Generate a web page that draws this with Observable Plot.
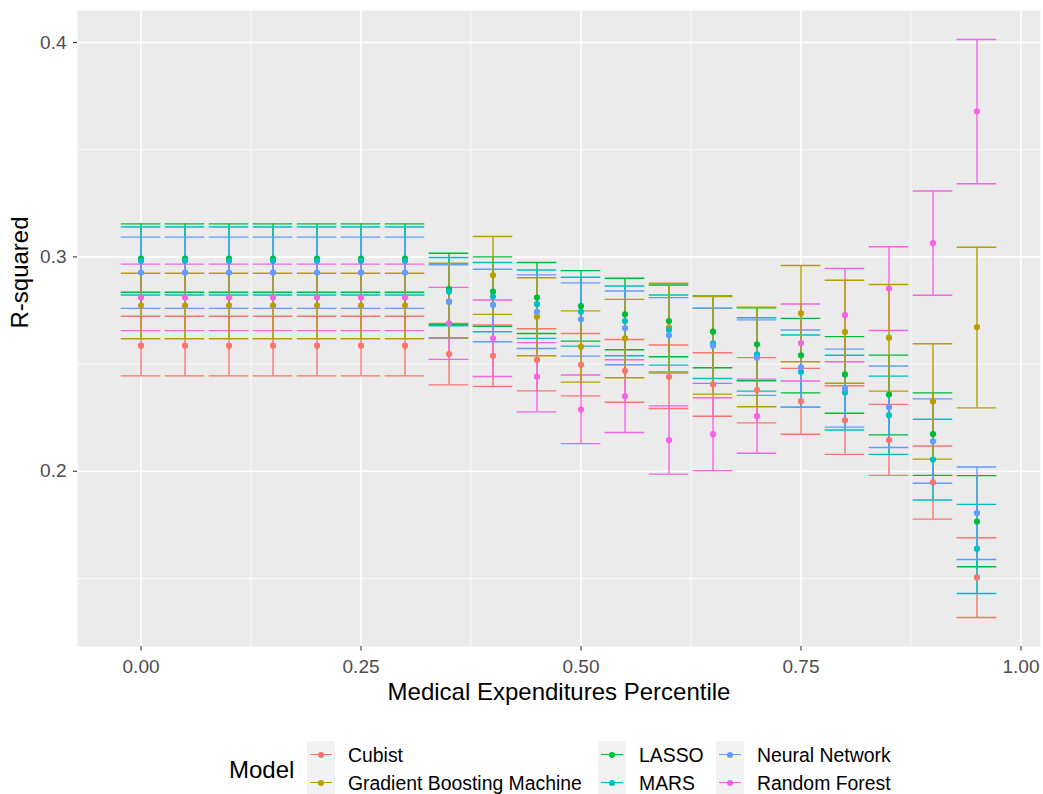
<!DOCTYPE html>
<html><head><meta charset="utf-8">
<script src="https://cdn.jsdelivr.net/npm/d3@7"></script>
<script src="https://cdn.jsdelivr.net/npm/@observablehq/plot@0.6"></script>
<style>
body{margin:0;background:#fff;font-family:"Liberation Sans",Arial,sans-serif;}
#wrap{position:relative;width:1043px;height:794px;overflow:hidden;}
#legend{position:relative;width:1043px;height:53px;}
#legend .t{position:absolute;white-space:nowrap;line-height:1;}
#legend .key{position:absolute;width:28px;height:28px;background:#F2F2F2;}
#legend .key .ln{position:absolute;left:3px;width:22px;top:13px;height:1.4px;}
#legend .key .pt{position:absolute;left:11px;top:11px;width:6px;height:6px;border-radius:50%;}
svg{display:block}
</style></head><body><div id="wrap"></div>
<script>
const models = ["Cubist","Gradient Boosting Machine","LASSO","MARS","Neural Network","Random Forest"];
const colors = ["#F8766D","#B79F00","#00BA38","#00BFC4","#619CFF","#F564E3"];
const errorbarOrder = ["Cubist","LASSO","MARS","Random Forest","Neural Network","Gradient Boosting Machine"];
const percentiles = [0,0.05,0.10,0.15,0.20,0.25,0.30,0.35,0.40,0.45,0.50,0.55,0.60,0.65,0.70,0.75,0.80,0.85,0.90,0.95];
const xTicks = [0,0.25,0.5,0.75,1];
const xTickLabels = ["0.00","0.25","0.50","0.75","1.00"];
const xMinor = [0.125,0.375,0.625,0.875];
const yTicks = [0.2,0.3,0.4];
const yTickLabels = ["0.2","0.3","0.4"];
const yMinor = [0.15,0.25,0.35];

const cubistMean = [0.2586,0.2586,0.2586,0.2586,0.2586,0.2586,0.2586,0.2547,0.2539,0.2520,0.2497,0.2469,0.2441,0.2405,0.2379,0.2327,0.2238,0.2146,0.1949,0.1505];
const cubistLow  = [0.2445,0.2445,0.2445,0.2445,0.2445,0.2445,0.2445,0.2403,0.2396,0.2375,0.2352,0.2322,0.2293,0.2257,0.2226,0.2173,0.2079,0.1981,0.1777,0.1318];
const cubistHigh = [0.2723,0.2723,0.2723,0.2723,0.2723,0.2723,0.2723,0.2690,0.2682,0.2665,0.2643,0.2615,0.2589,0.2553,0.2530,0.2480,0.2399,0.2312,0.2118,0.1690];

const gbmMean = [0.2773,0.2773,0.2773,0.2773,0.2773,0.2773,0.2773,0.2791,0.2914,0.2721,0.2581,0.2620,0.2670,0.2589,0.2534,0.2737,0.2650,0.2623,0.2326,0.2673];
const gbmLow  = [0.2618,0.2618,0.2618,0.2618,0.2618,0.2618,0.2618,0.2623,0.2732,0.2539,0.2416,0.2436,0.2463,0.2360,0.2301,0.2511,0.2411,0.2374,0.2057,0.2296];
const gbmHigh = [0.2924,0.2924,0.2924,0.2924,0.2924,0.2924,0.2924,0.2970,0.3095,0.2903,0.2748,0.2802,0.2877,0.2815,0.2765,0.2960,0.2891,0.2871,0.2595,0.3045];

const lassoMean = [0.2992,0.2992,0.2992,0.2992,0.2992,0.2992,0.2992,0.2850,0.2838,0.2810,0.2771,0.2732,0.2701,0.2651,0.2592,0.2541,0.2452,0.2358,0.2174,0.1766];
const lassoLow  = [0.2835,0.2835,0.2835,0.2835,0.2835,0.2835,0.2835,0.2685,0.2676,0.2643,0.2607,0.2567,0.2534,0.2483,0.2422,0.2366,0.2271,0.2170,0.1981,0.1555];
const lassoHigh = [0.3154,0.3154,0.3154,0.3154,0.3154,0.3154,0.3154,0.3017,0.3000,0.2974,0.2936,0.2900,0.2869,0.2818,0.2762,0.2713,0.2628,0.2542,0.2366,0.1980];

const marsMean = [0.2982,0.2982,0.2982,0.2982,0.2982,0.2982,0.2982,0.2838,0.2815,0.2780,0.2744,0.2701,0.2659,0.2597,0.2545,0.2464,0.2368,0.2262,0.2055,0.1639];
const marsLow  = [0.2822,0.2822,0.2822,0.2822,0.2822,0.2822,0.2822,0.2679,0.2651,0.2620,0.2584,0.2539,0.2495,0.2433,0.2374,0.2299,0.2193,0.2079,0.1866,0.1430];
const marsHigh = [0.3139,0.3139,0.3139,0.3139,0.3139,0.3139,0.3139,0.2997,0.2974,0.2939,0.2905,0.2864,0.2822,0.2761,0.2716,0.2636,0.2541,0.2444,0.2243,0.1846];

const nnMean = [0.2927,0.2927,0.2927,0.2927,0.2927,0.2927,0.2927,0.2791,0.2776,0.2744,0.2709,0.2668,0.2634,0.2585,0.2530,0.2485,0.2386,0.2299,0.2140,0.1805];
const nnLow  = [0.2760,0.2760,0.2760,0.2760,0.2760,0.2760,0.2760,0.2620,0.2604,0.2573,0.2537,0.2497,0.2458,0.2410,0.2354,0.2299,0.2206,0.2111,0.1944,0.1589];
const nnHigh = [0.3092,0.3092,0.3092,0.3092,0.3092,0.3092,0.3092,0.2963,0.2942,0.2916,0.2879,0.2841,0.2810,0.2760,0.2706,0.2659,0.2570,0.2491,0.2338,0.2020];

const rfMean = [0.2810,0.2810,0.2810,0.2810,0.2810,0.2810,0.2810,0.2690,0.2620,0.2441,0.2288,0.2350,0.2145,0.2173,0.2257,0.2598,0.2728,0.2852,0.3064,0.3679];
const rfLow  = [0.2656,0.2656,0.2656,0.2656,0.2656,0.2656,0.2656,0.2522,0.2442,0.2277,0.2129,0.2181,0.1987,0.2003,0.2084,0.2421,0.2511,0.2657,0.2821,0.3341];
const rfHigh = [0.2966,0.2966,0.2966,0.2966,0.2966,0.2966,0.2966,0.2858,0.2799,0.2600,0.2449,0.2520,0.2305,0.2343,0.2430,0.2780,0.2946,0.3047,0.3307,0.4014];

const means = [cubistMean,gbmMean,lassoMean,marsMean,nnMean,rfMean];
const lows = [cubistLow,gbmLow,lassoLow,marsLow,nnLow,rfLow];
const highs = [cubistHigh,gbmHigh,lassoHigh,marsHigh,nnHigh,rfHigh];

const rows = [];
models.forEach((m, i) => percentiles.forEach((p, j) => rows.push({model: m, x: p, mean: means[i][j], lo: lows[i][j], hi: highs[i][j]})));

const capHalf = 0.0225;
const font = "Liberation Sans, Arial, sans-serif";
const eb = {stroke: "model", strokeWidth: 1.4};

const errorbarMarks = errorbarOrder.flatMap(m => {
  const sub = rows.filter(d => d.model === m);
  return [
    Plot.ruleX(sub, {x: "x", y1: "lo", y2: "hi", ...eb}),
    Plot.ruleY(sub, {y: "lo", x1: d => d.x - capHalf, x2: d => d.x + capHalf, ...eb}),
    Plot.ruleY(sub, {y: "hi", x1: d => d.x - capHalf, x2: d => d.x + capHalf, ...eb})
  ];
});

const chart = Plot.plot({
  width: 1043, height: 741,
  marginLeft: 77, marginRight: 3, marginTop: 10, marginBottom: 95,
  x: {domain: [-0.0722, 1.0222]},
  y: {domain: [0.1183, 0.4149]},
  color: {domain: models, range: colors},
  style: {fontFamily: font, background: "transparent", overflow: "visible"},
  marks: [
    Plot.frame({fill: "#EBEBEB", stroke: null}),
    Plot.ruleX(xMinor, {stroke: "#fff", strokeWidth: 0.8}),
    Plot.ruleY(yMinor, {stroke: "#fff", strokeWidth: 0.8}),
    Plot.ruleX(xTicks, {stroke: "#fff", strokeWidth: 1.6}),
    Plot.ruleY(yTicks, {stroke: "#fff", strokeWidth: 1.6}),
    ...errorbarMarks,
    Plot.dot(rows, {x: "x", y: "mean", fill: "model", r: 3.1, stroke: null}),
    Plot.axisX({ticks: xTicks, tickFormat: d => xTickLabels[xTicks.indexOf(d)], tickSize: 4.5, tickPadding: 8, fontSize: 19, label: null, stroke: "#333", fill: "#4D4D4D", strokeWidth: 1.1}),
    Plot.axisY({ticks: yTicks, tickFormat: d => yTickLabels[yTicks.indexOf(d)], tickSize: 4, tickPadding: 7, fontSize: 19, label: null, stroke: "#333", fill: "#4D4D4D", strokeWidth: 1.1}),
    Plot.text(["Medical Expenditures Percentile"], {frameAnchor: "bottom", dy: 45.5, lineAnchor: "middle", fontSize: 24, fill: "#000"}),
    Plot.text(["R-squared"], {frameAnchor: "left", dx: -57, rotate: -90, lineAnchor: "middle", fontSize: 24, fill: "#000"})
  ]
});

const wrap = document.getElementById("wrap");
wrap.appendChild(chart);

// Legend below the plot
const legend = document.createElement("div");
legend.id = "legend";
const title = document.createElement("div");
title.className = "t";
title.textContent = "Model";
title.style.cssText = "left:229px;top:17px;font-size:24px;color:#000;";
legend.appendChild(title);
const colX = [307, 598, 716];
models.forEach((m, i) => {
  const col = Math.floor(i / 2), row = i % 2;
  const key = document.createElement("div");
  key.className = "key";
  key.style.left = colX[col] + "px";
  key.style.top = (row * 28) + "px";
  const ln = document.createElement("div");
  ln.className = "ln"; ln.style.background = colors[i];
  const pt = document.createElement("div");
  pt.className = "pt"; pt.style.background = colors[i];
  key.appendChild(ln); key.appendChild(pt);
  legend.appendChild(key);
  const lab = document.createElement("div");
  lab.className = "t";
  lab.textContent = m;
  lab.style.cssText = `left:${colX[col] + 41}px;top:${row * 28 + 5}px;font-size:19.4px;color:#000;`;
  legend.appendChild(lab);
});
wrap.appendChild(legend);
</script>
</body></html>
